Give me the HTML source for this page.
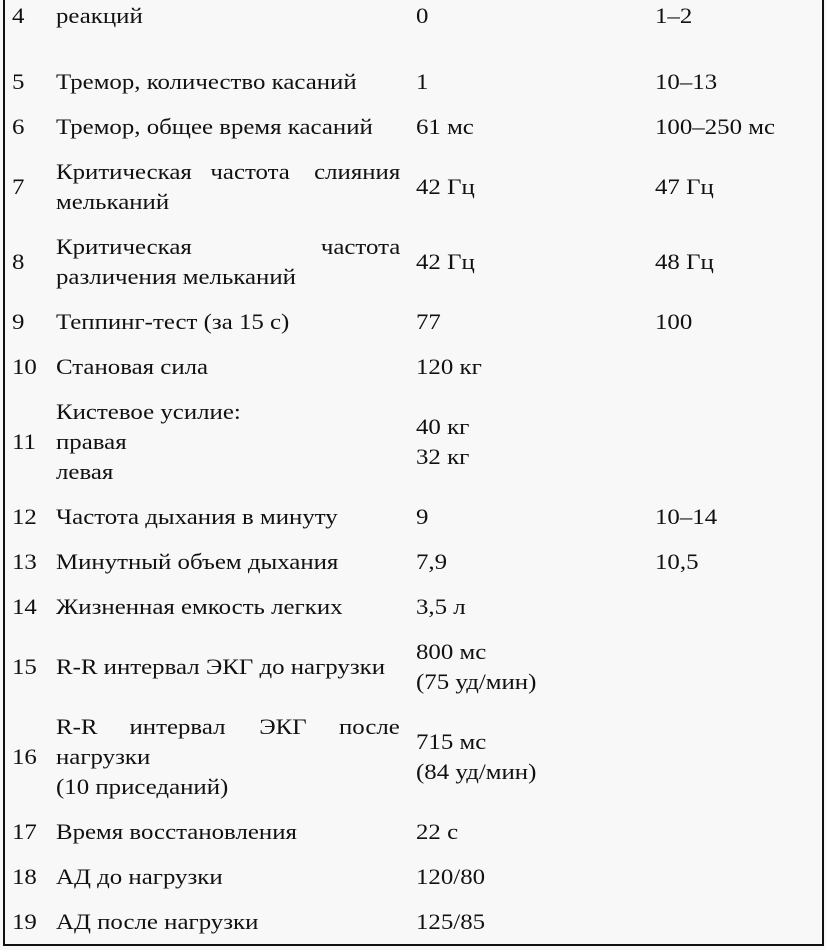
<!DOCTYPE html>
<html><head><meta charset="utf-8"><style>
body{margin:0;width:826px;height:950px;background:#f8f8f8;position:relative;overflow:hidden;font-family:"Liberation Serif","Noto Serif CJK SC","DejaVu Serif",serif;font-size:22px;color:#111}
.t{position:absolute;line-height:26px;white-space:nowrap;transform:scaleX(1.13);transform-origin:left center}
.j{position:absolute;line-height:26px;left:56px;width:344px;display:flex;justify-content:space-between}
.j span{display:inline-block;transform:scaleX(1.13)}
.j span:first-child{transform-origin:left center}
.j span:last-child{transform-origin:right center}
.b{position:absolute;background:#111}
</style></head><body>
<div class="b" style="left:3px;top:0;width:2px;height:946px"></div>
<div class="b" style="left:822px;top:0;width:2px;height:946px"></div>
<div class="b" style="left:3px;top:944px;width:821px;height:2px"></div>

<div class="t" style="left:12px;top:3px">4</div><div class="t" style="left:56px;top:3px">реакций</div><div class="t" style="left:416px;top:3px">0</div><div class="t" style="left:655px;top:3px">1–2</div>
<div class="t" style="left:12px;top:69px">5</div><div class="t" style="left:56px;top:69px">Тремор, количество касаний</div><div class="t" style="left:416px;top:69px">1</div><div class="t" style="left:655px;top:69px">10–13</div>
<div class="t" style="left:12px;top:114px">6</div><div class="t" style="left:56px;top:114px">Тремор, общее время касаний</div><div class="t" style="left:416px;top:114px">61 мс</div><div class="t" style="left:655px;top:114px">100–250 мс</div>
<div class="t" style="left:12px;top:174px">7</div><div class="j" style="top:159px"><span>Критическая</span><span>частота</span><span>слияния</span></div><div class="t" style="left:56px;top:189px">мельканий</div><div class="t" style="left:416px;top:174px">42 Гц</div><div class="t" style="left:655px;top:174px">47 Гц</div>
<div class="t" style="left:12px;top:249px">8</div><div class="j" style="top:234px"><span>Критическая</span><span>частота</span></div><div class="t" style="left:56px;top:264px">различения мельканий</div><div class="t" style="left:416px;top:249px">42 Гц</div><div class="t" style="left:655px;top:249px">48 Гц</div>
<div class="t" style="left:12px;top:309px">9</div><div class="t" style="left:56px;top:309px">Теппинг-тест (за 15 с)</div><div class="t" style="left:416px;top:309px">77</div><div class="t" style="left:655px;top:309px">100</div>
<div class="t" style="left:12px;top:354px">10</div><div class="t" style="left:56px;top:354px">Становая сила</div><div class="t" style="left:416px;top:354px">120 кг</div>
<div class="t" style="left:12px;top:429px">11</div><div class="t" style="left:56px;top:399px">Кистевое усилие:</div><div class="t" style="left:56px;top:429px">правая</div><div class="t" style="left:56px;top:459px">левая</div><div class="t" style="left:416px;top:414px">40 кг</div><div class="t" style="left:416px;top:444px">32 кг</div>
<div class="t" style="left:12px;top:504px">12</div><div class="t" style="left:56px;top:504px">Частота дыхания в минуту</div><div class="t" style="left:416px;top:504px">9</div><div class="t" style="left:655px;top:504px">10–14</div>
<div class="t" style="left:12px;top:549px">13</div><div class="t" style="left:56px;top:549px">Минутный объем дыхания</div><div class="t" style="left:416px;top:549px">7,9</div><div class="t" style="left:655px;top:549px">10,5</div>
<div class="t" style="left:12px;top:594px">14</div><div class="t" style="left:56px;top:594px">Жизненная емкость легких</div><div class="t" style="left:416px;top:594px">3,5 л</div>
<div class="t" style="left:12px;top:654px">15</div><div class="t" style="left:56px;top:654px">R-R интервал ЭКГ до нагрузки</div><div class="t" style="left:416px;top:639px">800 мс</div><div class="t" style="left:416px;top:669px">(75 уд/мин)</div>
<div class="t" style="left:12px;top:744px">16</div><div class="j" style="top:714px"><span>R-R</span><span>интервал</span><span>ЭКГ</span><span>после</span></div><div class="t" style="left:56px;top:744px">нагрузки</div><div class="t" style="left:56px;top:774px">(10 приседаний)</div><div class="t" style="left:416px;top:729px">715 мс</div><div class="t" style="left:416px;top:759px">(84 уд/мин)</div>
<div class="t" style="left:12px;top:819px">17</div><div class="t" style="left:56px;top:819px">Время восстановления</div><div class="t" style="left:416px;top:819px">22 с</div>
<div class="t" style="left:12px;top:864px">18</div><div class="t" style="left:56px;top:864px">АД до нагрузки</div><div class="t" style="left:416px;top:864px">120/80</div>
<div class="t" style="left:12px;top:909px">19</div><div class="t" style="left:56px;top:909px">АД после нагрузки</div><div class="t" style="left:416px;top:909px">125/85</div>
</body></html>
